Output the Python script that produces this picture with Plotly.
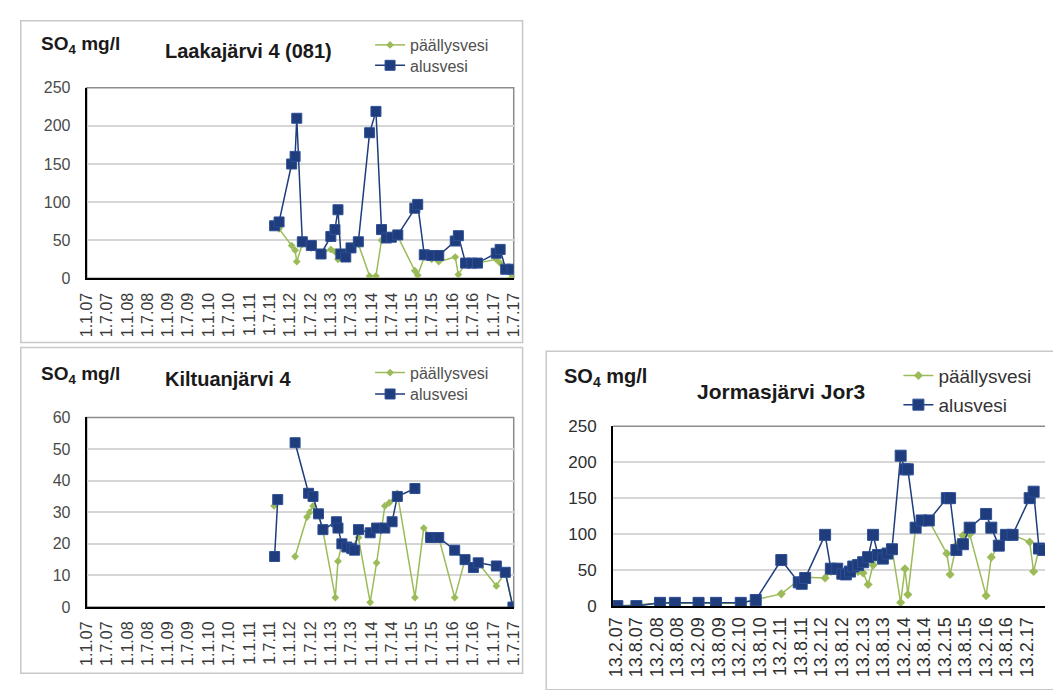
import plotly.graph_objects as go

W, H = 1053, 690
FONT = "Liberation Sans, Arial, sans-serif"

# --- Laakajärvi 4 (081) ---
laaka_dates = ['2011-08-15', '2011-09-24', '2012-01-15', '2012-02-15', '2012-03-01', '2012-04-20',
               '2012-07-10', '2012-10-05', '2013-01-01', '2013-02-07', '2013-03-06', '2013-04-01',
               '2013-05-15', '2013-07-01', '2013-09-05', '2013-12-15', '2014-02-10', '2014-04-01',
               '2014-05-15', '2014-06-28', '2014-08-25', '2015-01-25', '2015-02-20', '2015-04-20',
               '2015-06-25', '2015-08-28', '2016-01-23', '2016-02-20', '2016-04-25', '2016-06-20',
               '2016-08-10', '2017-01-25', '2017-03-01', '2017-04-20', '2017-06-15']
laaka_alus = [69, 74, 150, 160, 210, 48, 43, 32, 55, 64, 90, 32, 28, 40, 48, 191, 219, 64,
              53, 54, 57, 92, 97, 31, 30, 30, 49, 56, 20, 20, 20, 33, 38, 12, 12]
laaka_paal = [68, 65, 43, 37, 22, 45, 40, 32, 38, 35, 25, 30, 30, 38, 45, 3, 3, 50,
              52, 53, 55, 10, 4, 28, 25, 22, 28, 5, 20, 20, 20, 25, 20, 10, 1]

# --- Kiltuanjärvi 4 (None = no sample, the line breaks there) ---
kilt_alus_dates = ['2011-08-15', '2011-09-12', '2011-12-01', '2012-02-15', '2012-06-15', '2012-07-25',
                   '2012-09-12', '2012-10-22', '2013-02-20', '2013-03-06', '2013-04-10', '2013-05-25',
                   '2013-07-08', '2013-08-02', '2013-09-06', '2013-12-20', '2014-02-16', '2014-05-01',
                   '2014-07-05', '2014-08-21', '2015-01-26', '2015-04-01', '2015-06-16', '2015-08-28',
                   '2016-01-18', '2016-04-20', '2016-07-04', '2016-08-16', '2017-01-26', '2017-04-16',
                   '2017-06-24']
kilt_alus = [16, 34, None, 52, 36, 35, 29.5, 24.5, 27, 25, 20, 19, 18.5, 18, 24.5, 23.5, 25, 25,
             27, 35, 37.5, None, 22, 22, 18, 15, 12.5, 14, 13, 11, 0]
kilt_paal_dates = ['2011-08-10', '2011-09-12', '2011-12-01', '2012-02-15', '2012-06-01', '2012-06-25',
                   '2012-07-25', '2012-09-12', '2012-10-22', '2013-02-10', '2013-03-06', '2013-04-10',
                   '2013-05-25', '2013-07-08', '2013-09-06', '2013-12-20', '2014-02-16', '2014-05-01',
                   '2014-06-10', '2014-08-21', '2015-01-26', '2015-04-15', '2015-06-16', '2015-08-28',
                   '2016-01-18', '2016-04-20', '2016-07-04', '2016-08-16', '2017-01-26', '2017-04-16',
                   '2017-06-24']
kilt_paal = [32, 34, None, 16, 28.5, 30, 32, 29, 24, 3, 14.5, 20, 19, 19, 22, 1.5, 14, 32,
             33, 36, 3, 25, 22, 22, 3, 15, 13, 14, 6.7, 11, 0]

# --- Jormasjärvi Jor3 ---
jor_dates = ['2007-02-25', '2007-08-13', '2008-03-10', '2008-07-20', '2009-02-15', '2009-07-20',
             '2010-02-25', '2010-07-08', '2011-02-20', '2011-07-25', '2011-08-20', '2011-09-20',
             '2012-03-15', '2012-05-05', '2012-07-01', '2012-08-15', '2012-09-15', '2012-10-22',
             '2012-11-20', '2013-01-02', '2013-02-16', '2013-04-01', '2013-05-15', '2013-06-28',
             '2013-08-10', '2013-09-20', '2013-10-30', '2014-01-15', '2014-02-22', '2014-03-20',
             '2014-05-28', '2014-07-20', '2014-09-22', '2015-03-01', '2015-03-30', '2015-05-25',
             '2015-07-22', '2015-09-20', '2016-02-13', '2016-03-30', '2016-06-05', '2016-08-07',
             '2016-10-05', '2017-03-06', '2017-04-10', '2017-05-28', '2017-07-06']
jor_alus = [0, 0, 4.5, 4.5, 4.5, 4.5, 4.5, 8.5, 64, 33, 31, 39, 99, 52, 52, 45, 44, 48, 55, 57,
            61, 68, 99, 71, 66, 73, 79, 209, 190, 190, 109, 119, 119, 150, 150, 78, 86, 109, 128,
            109, 84, 99, 99, 150, 159, 80, 78]
jor_paal = [0, 2, 4, 4, 4, 4, 4, 9, 17, 36, 38, 40, 39, 48, 50, 45, 44, 44, 48, 48, 46, 30, 57,
            68, 70, 73, 80, 5, 52, 16, 109, 119, 119, 73, 44, 85, 98, 100, 14.5, 68, 84, 99, 99,
            89, 48, 80, 78]

# tick labels
half_year_ticks = [f"{y}-{m:02d}-01" for y in range(2007, 2018) for m in (1, 7)]
half_year_text = [f"1.{m}.{y % 100:02d}" for y in range(2007, 2018) for m in (1, 7)]
jor_ticks = [f"{y}-{m:02d}-13" for y in range(2007, 2018) for m in (2, 8)][:-1]
jor_text = [f"13.{m}.{y % 100:02d}" for y in range(2007, 2018) for m in (2, 8)][:-1]

GREEN = "#9bbb59"
BLUE = "#1f3c7c"


def px_x(p):
    return p / W


def px_y(p):
    return 1 - p / H


fig = go.Figure()


def add_pair(xa, ya, leg_g, leg_b, xg, yg, xb, yb, msize_b=10, msize_g=6):
    fig.add_trace(go.Scatter(x=xg, y=yg, xaxis=xa, yaxis=ya, name="päällysvesi", legend=leg_g,
                             mode="lines+markers", connectgaps=False,
                             line=dict(color=GREEN, width=1.5),
                             marker=dict(symbol="diamond", size=msize_g, color=GREEN)))
    fig.add_trace(go.Scatter(x=xb, y=yb, xaxis=xa, yaxis=ya, name="alusvesi", legend=leg_b,
                             mode="lines+markers", connectgaps=False,
                             line=dict(color=BLUE, width=1.5),
                             marker=dict(symbol="square", size=msize_b, color=BLUE,
                                         line=dict(color="#2d4f95", width=1))))


add_pair("x", "y", "legend", "legend2", laaka_dates, laaka_paal, laaka_dates, laaka_alus)
add_pair("x2", "y2", "legend3", "legend4", kilt_paal_dates, kilt_paal, kilt_alus_dates, kilt_alus)
add_pair("x3", "y3", "legend5", "legend6", jor_dates, jor_paal, jor_dates, jor_alus,
         msize_b=11, msize_g=7)


def xaxis(domain, anchor, rng, tv, tt, size, color, standoff):
    return dict(domain=domain, anchor=anchor, type="date", range=rng, tickvals=tv, ticktext=tt,
                tickangle=-90, showgrid=False, showline=True, linecolor="black", linewidth=2,
                zeroline=False, ticks="", ticklabelstandoff=standoff,
                tickfont=dict(size=size, color=color, family=FONT), fixedrange=True)


def yaxis(domain, anchor, rng, dtick, size, color):
    return dict(domain=domain, anchor=anchor, range=rng, dtick=dtick, showgrid=True,
                gridcolor="#d6d6d6", gridwidth=1.5, showline=True, linecolor="black", linewidth=2,
                zeroline=False, ticks="", ticklabelstandoff=11,
                tickfont=dict(size=size, color=color, family=FONT), fixedrange=True)


p12_dom = [px_x(79), px_x(513)]
fig.update_layout(
    width=W, height=H, margin=dict(l=0, r=0, t=0, b=0),
    paper_bgcolor="white", plot_bgcolor="white",
    font=dict(family=FONT, color="#404040"),
    xaxis=xaxis(p12_dom, "y", ["2007-01-01", "2017-07-01"], half_year_ticks, half_year_text,
                16, "#3a3a3a", 6),
    yaxis=yaxis([px_y(277), px_y(81)], "x", [0, 250], 50, 16, "#4a4a4a"),
    xaxis2=xaxis(p12_dom, "y2", ["2007-01-01", "2017-07-01"], half_year_ticks, half_year_text,
                 16, "#3a3a3a", 6),
    yaxis2=yaxis([px_y(615), px_y(420)], "x2", [0, 60], 10, 16, "#4a4a4a"),
    xaxis3=xaxis([px_x(614), 1.0], "y3", ["2007-01-18", "2017-07-20"], jor_ticks, jor_text,
                 18, "#2e2e2e", 2),
    yaxis3=yaxis([px_y(614), px_y(429)], "x3", [0, 250], 50, 17, "#2e2e2e"),
    showlegend=True,
)

# one legend per entry so each row sits where it belongs in its panel
leg = dict(xanchor="left", yanchor="middle", bgcolor="rgba(0,0,0,0)", borderwidth=0,
           itemclick=False, itemdoubleclick=False)
small = dict(size=16, color="#505050")
big = dict(size=19, color="#333333")
fig.update_layout(
    legend=leg | dict(x=px_x(367), y=px_y(37), font=small),
    legend2=leg | dict(x=px_x(367), y=px_y(58), font=small),
    legend3=leg | dict(x=px_x(367), y=px_y(374), font=small),
    legend4=leg | dict(x=px_x(367), y=px_y(396), font=small),
    legend5=leg | dict(x=px_x(904), y=px_y(377), font=big),
    legend6=leg | dict(x=px_x(904), y=px_y(407), font=big),
)

shapes = []
# outer panel frames
for x0, y0, x1, y1 in [(12, 12, 522, 343), (12, 348, 522, 683), (546, 352, 1070, 700)]:
    shapes.append(dict(type="rect", xref="paper", yref="paper", x0=px_x(x0), x1=px_x(x1),
                       y0=px_y(y1), y1=px_y(y0), line=dict(color="#c8c8c8", width=1.5),
                       layer="below"))
# plot-area borders (top / right)
for ax in ("", "2"):
    shapes.append(dict(type="rect", xref=f"x{ax} domain", yref=f"y{ax} domain", x0=0, x1=1, y0=0,
                       y1=1, line=dict(color="#8c8c8c", width=1.5), layer="below"))
shapes.append(dict(type="line", xref="x3 domain", yref="y3 domain", x0=0, x1=1, y0=1, y1=1,
                   line=dict(color="#8c8c8c", width=1.5), layer="below"))
fig.update_layout(shapes=shapes)

ann = []


def label(x, y, text, size):
    ann.append(dict(xref="paper", yref="paper", x=px_x(x), y=px_y(y), xanchor="left",
                    yanchor="middle", showarrow=False, text=text,
                    font=dict(size=size, color="#1a1a1a", family=FONT)))


label(30, 37, "<b>SO<sub>4</sub> mg/l</b>", 19)
label(157, 43, "<b>Laakajärvi 4 (081)</b>", 20)
label(30, 376, "<b>SO<sub>4</sub> mg/l</b>", 19)
label(157, 380, "<b>Kiltuanjärvi 4</b>", 20)
label(562, 379, "<b>SO<sub>4</sub> mg/l</b>", 20)
label(697, 393, "<b>Jormasjärvi Jor3</b>", 21)
fig.update_layout(annotations=ann)

fig.write_html("out.html")
